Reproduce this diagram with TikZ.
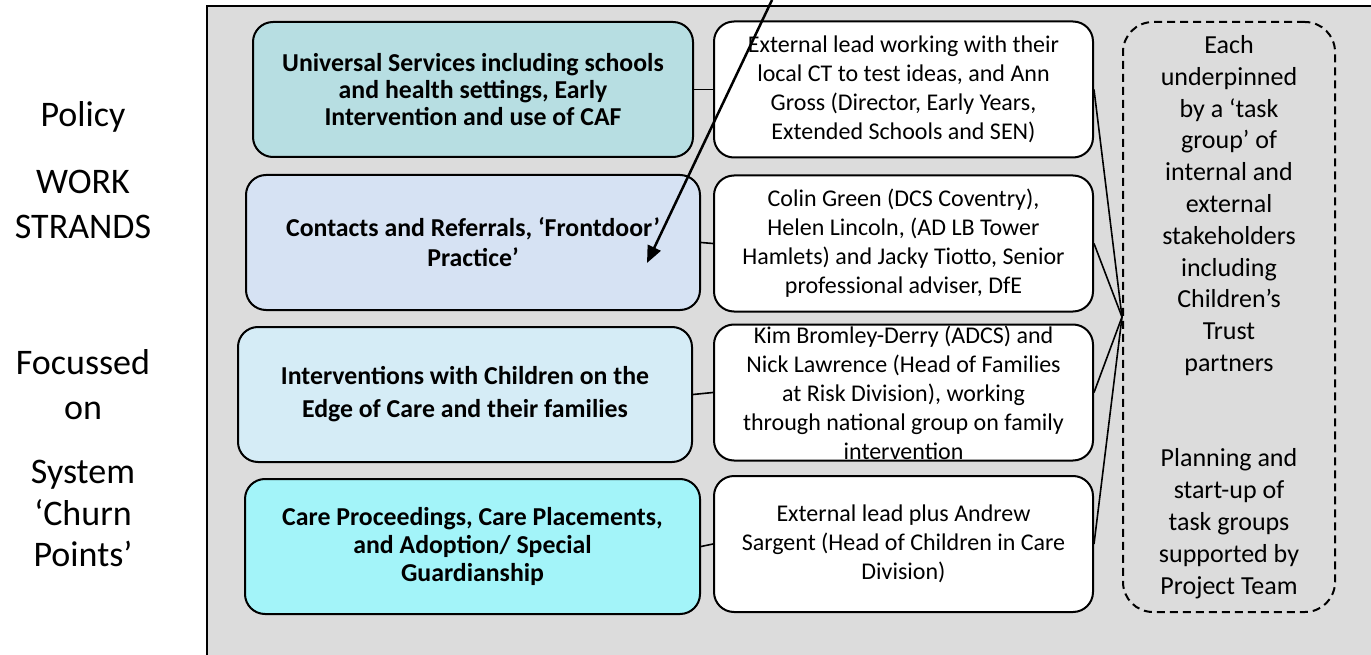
\documentclass[tikz,border=0pt]{standalone}
\usepackage{fontspec}
\setmainfont{Carlito}
\usepackage{xcolor}
\usetikzlibrary{arrows.meta,positioning}

\definecolor{framegray}{RGB}{220,220,220}
\definecolor{univfill}{RGB}{183,222,226}
\definecolor{contactfill}{RGB}{214,226,243}
\definecolor{intervfill}{RGB}{213,236,246}
\definecolor{carefill}{RGB}{163,244,249}

\begin{document}
\begin{tikzpicture}[x=1pt, y=-1pt, node distance=16pt, auto]
\tikzset{
    mystrand/.style={rectangle, rounded corners=20pt, draw=black, line width=2pt, minimum height=135pt, inner sep=0pt, align=center, font=\bfseries\fontsize{25.8}{30}\selectfont},
    mylead/.style={rectangle, rounded corners=20pt, draw=black, fill=white, line width=2pt, minimum width=379pt, minimum height=136pt, inner sep=0pt, align=center, font=\fontsize{24}{29}\selectfont},
    mygroup/.style={rectangle, rounded corners=30pt, draw=black, dash pattern=on 8pt off 5pt, line width=2pt, minimum width=212pt, minimum height=590pt, inner sep=0pt, align=center, font=\fontsize{26}{31.8}\selectfont},
    mylabel/.style={align=center, font=\fontsize{36}{45}\selectfont},
    myline/.style={line width=1.6pt},
    myarrow/.style={-{Triangle[length=17pt, width=14pt]}, line width=2.5pt}
}
\useasboundingbox (0,0) rectangle (1371,655);
% grey panel, only its left and top edges show
\fill[framegray] (207,6) rectangle (1371,655);
\draw[line width=2.5pt] (207,655) |- (1371,6);

\node[mylabel] (label1) at (83,117) {Policy};
\node[mylabel] (label2) at (83,204.5) {WORK\\STRANDS};
\node[mylabel] (label3) at (83,385) {Focussed\\on};
\node[mylabel, font=\fontsize{36}{41.5}\selectfont] (label4) at (83,513.5) {System\\‘Churn\\Points’};

\node[mystrand, fill=univfill, minimum width=440pt, font=\bfseries\fontsize{25.8}{27}\selectfont] (universal) at (473,89.5) {Universal Services including schools\\and health settings, Early\\Intervention and use of CAF};
\node[mystrand, fill=contactfill, minimum width=454pt, below=of universal] (contacts) {Contacts and Referrals, ‘Frontdoor’\\Practice’};
\node[mystrand, fill=intervfill, minimum width=454pt, below=15pt of contacts, xshift=-8pt, font=\bfseries\fontsize{25.8}{33}\selectfont] (interventions) {Interventions with Children on the\\Edge of Care and their families};
\node[mystrand, fill=carefill, minimum width=455pt, below=15pt of interventions, xshift=7.5pt, font=\bfseries\fontsize{25.8}{28}\selectfont] (proceedings) {Care Proceedings, Care Placements,\\and Adoption/ Special\\Guardianship};

\node[mylead] (lead1) at (903.5,89.5) {External lead working with their\\local CT to test ideas, and Ann\\Gross (Director, Early Years,\\Extended Schools and SEN)};
\node[mylead, below=of lead1] (lead2) {Colin Green (DCS Coventry),\\Helen Lincoln, (AD LB Tower\\Hamlets) and Jacky Tiotto, Senior\\professional adviser, DfE};
\node[mylead, inner ysep=-6pt] (lead3) at (903.5,392.5) {Kim Bromley-Derry (ADCS) and\\Nick Lawrence (Head of Families\\at Risk Division), working\\through national group on family\\intervention};
% The negative inner sep lets the five lines run over the border as they do.
\node[mylead] (lead4) at (903.5,544) {External lead plus Andrew\\Sargent (Head of Children in Care\\Division)};

\node[mygroup] (taskgroup) at (1229,317) {Each\\underpinned\\by a ‘task\\group’ of\\internal and\\external\\stakeholders\\including\\Children’s\\Trust\\partners\\[63.6pt]Planning and\\start-up of\\task groups\\supported by\\Project Team};

\draw[myline] (universal.east) -- (lead1.west);
\draw[myline] (contacts.east) -- (lead2.west);
\draw[myline] (interventions.east) -- (lead3.west);
\draw[myline] (proceedings.east) -- (lead4.west);

\draw[myline] (lead1.east) -- (taskgroup.west);
\draw[myline] (lead2.east) -- (taskgroup.west);
\draw[myline] (lead3.east) -- (taskgroup.west);
\draw[myline] (lead4.east) -- (taskgroup.west);

% the pointer comes in from above the picture
\coordinate (pointerstart) at (772,0);
\coordinate (pointerend) at (647,263);
\draw[myarrow] (pointerstart) -- (pointerend);

\end{tikzpicture}
\end{document}
